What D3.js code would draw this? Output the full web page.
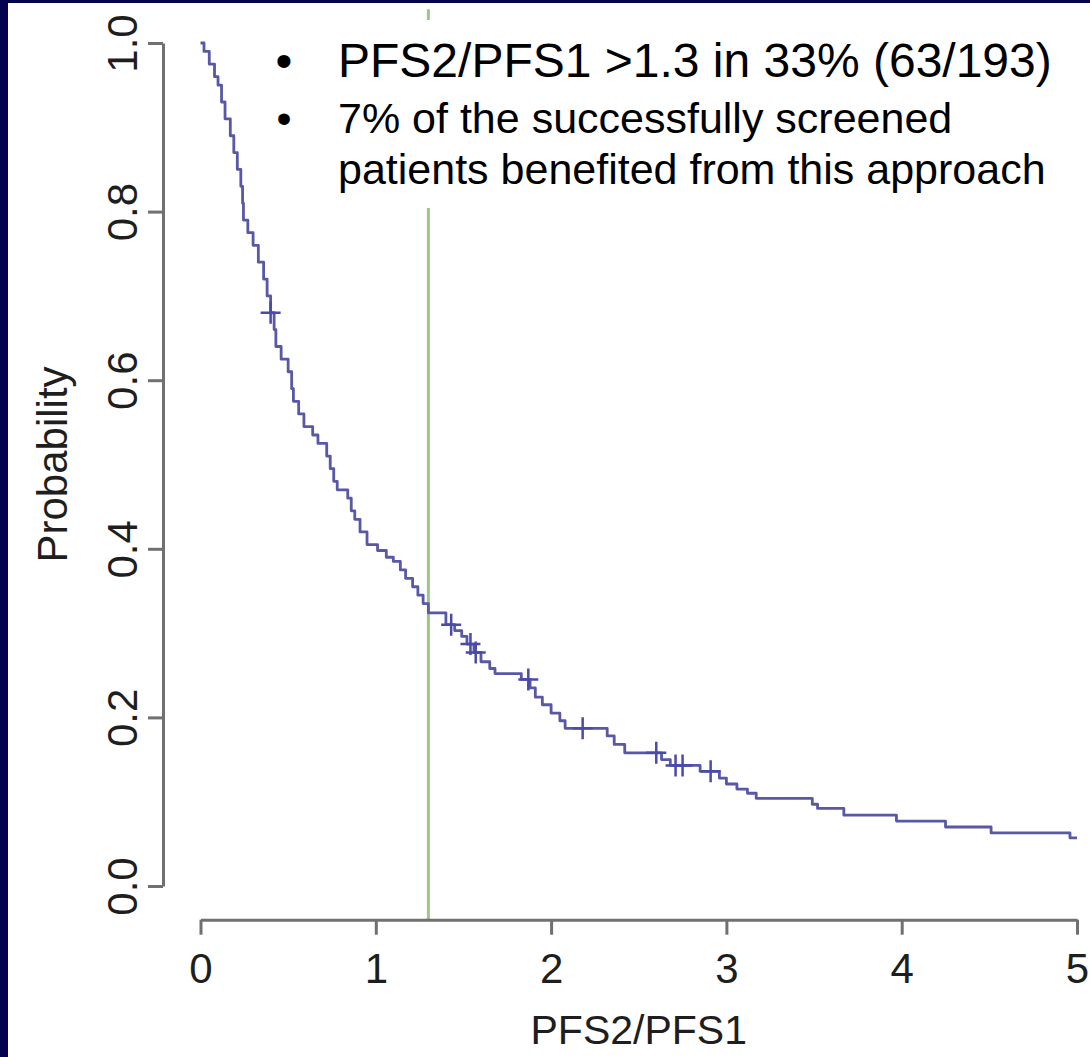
<!DOCTYPE html>
<html>
<head>
<meta charset="utf-8">
<script src="https://cdn.jsdelivr.net/npm/d3@7"></script>
<style>
  html, body { margin: 0; padding: 0; background: #03034e; }
  svg { display: block; }
</style>
</head>
<body>
<svg id="chart" width="1090" height="1057"></svg>
<script>
// ---- data ----
const kmTime = [0, 0.02, 0.05, 0.08, 0.10, 0.12, 0.14, 0.17, 0.19, 0.21, 0.23, 0.24, 0.245, 0.27, 0.30, 0.33, 0.36, 0.38, 0.40,
  0.42, 0.43, 0.46, 0.50, 0.52, 0.53, 0.56, 0.59, 0.64, 0.67, 0.72, 0.74, 0.76, 0.78, 0.84, 0.86, 0.88, 0.91, 0.95,
  1.01, 1.06, 1.10, 1.14, 1.17, 1.21, 1.24, 1.27, 1.30, 1.40, 1.45, 1.49, 1.52, 1.56, 1.60, 1.65, 1.68, 1.83, 1.88,
  1.91, 1.95, 2.00, 2.05, 2.08, 2.32, 2.36, 2.42, 2.63, 2.68, 2.85, 2.96, 3.00, 3.06, 3.12, 3.17, 3.49, 3.52, 3.67,
  3.97, 4.25, 4.51, 4.96, 5.0];
const kmSurv = [1.0, 0.99, 0.975, 0.96, 0.95, 0.93, 0.91, 0.89, 0.87, 0.85, 0.83, 0.81, 0.79, 0.775, 0.76, 0.74, 0.72, 0.70, 0.68,
  0.66, 0.64, 0.625, 0.61, 0.59, 0.575, 0.56, 0.545, 0.535, 0.525, 0.51, 0.495, 0.48, 0.47, 0.46, 0.445, 0.435, 0.42, 0.405,
  0.398, 0.39, 0.385, 0.375, 0.365, 0.355, 0.345, 0.335, 0.324, 0.31, 0.303, 0.296, 0.287, 0.277, 0.266, 0.258, 0.252, 0.245, 0.235,
  0.224, 0.215, 0.205, 0.196, 0.187, 0.178, 0.168, 0.158, 0.150, 0.143, 0.136, 0.128, 0.121, 0.115, 0.110, 0.104, 0.097, 0.092, 0.084,
  0.077, 0.070, 0.063, 0.057, 0.057];
const censorTime = [0.40, 1.43, 1.54, 1.57, 1.87, 2.18, 2.60, 2.71, 2.75, 2.91];
const xTicks = [0, 1, 2, 3, 4, 5];
const yTicks = [0.0, 0.2, 0.4, 0.6, 0.8, 1.0];
const cutoff = 1.3;
const xLabel = "PFS2/PFS1";
const yLabel = "Probability";
const bulletLines = [
  { bullet: true,  text: "PFS2/PFS1 >1.3 in 33% (63/193)" },
  { bullet: true,  text: "7% of the successfully screened" },
  { bullet: false, text: "patients benefited from this approach" }
];

// ---- layout ----
const svg = d3.select("#chart");
const font = "'Liberation Sans', Arial, sans-serif";
const textColor = "#1e1e1e";

svg.append("rect").attr("x", 8).attr("y", 3).attr("width", 1082).attr("height", 1054).attr("fill", "#ffffff");

const x = d3.scaleLinear().domain([0, 5]).range([200.5, 1077]);
const y = d3.scaleLinear().domain([0, 1]).range([886, 43]);
const plotTop = y(1.04), plotBottom = y(-0.04);

// cutoff line
svg.append("line")
  .attr("x1", x(cutoff)).attr("x2", x(cutoff))
  .attr("y1", plotTop).attr("y2", plotBottom)
  .attr("stroke", "#9cc68a").attr("stroke-width", 3);

// KM curve
const pts = kmTime.map((t, i) => [t, kmSurv[i]]);
const line = d3.line().x(d => x(d[0])).y(d => y(d[1])).curve(d3.curveStepAfter);
svg.append("path").attr("d", line(pts))
  .attr("fill", "none").attr("stroke", "#5858a6").attr("stroke-width", 2.8)
  .attr("stroke-linejoin", "round");

function survAt(t) {
  let s = kmSurv[0];
  for (let i = 0; i < kmTime.length; i++) { if (kmTime[i] <= t) s = kmSurv[i]; }
  return s;
}
svg.append("g").selectAll("path").data(censorTime).join("path")
  .attr("transform", d => `translate(${x(d)},${y(survAt(d))})`)
  .attr("d", "M-10,0H10M0,-11V11")
  .attr("stroke", "#4a4aa8").attr("stroke-width", 2.5).attr("fill", "none");

// x axis
const gx = svg.append("g").attr("transform", `translate(0,${plotBottom})`)
  .call(d3.axisBottom(x).tickValues(xTicks).tickFormat(d3.format("d")).tickSize(15).tickSizeOuter(0).tickPadding(18));
gx.select(".domain").attr("stroke", "#707070").attr("stroke-width", 3);
gx.selectAll(".tick line").attr("stroke", "#707070").attr("stroke-width", 3);
gx.selectAll(".tick text").attr("font-family", font).attr("font-size", 42).attr("fill", textColor);

// y axis
const gy = svg.append("g").attr("transform", `translate(163,0)`)
  .call(d3.axisLeft(y).tickValues(yTicks).tickFormat(d3.format(".1f")).tickSize(15).tickSizeOuter(0));
gy.select(".domain").attr("stroke", "#707070").attr("stroke-width", 3);
gy.selectAll(".tick line").attr("stroke", "#707070").attr("stroke-width", 3);
gy.selectAll(".tick text")
  .attr("font-family", font).attr("font-size", 42).attr("fill", textColor)
  .attr("x", null).attr("dy", null)
  .attr("text-anchor", "middle")
  .attr("transform", "translate(-26,0) rotate(-90)");

// axis titles
svg.append("text").attr("x", x(2.5)).attr("y", 1044)
  .attr("text-anchor", "middle").attr("font-family", font).attr("font-size", 41).attr("fill", textColor)
  .text(xLabel);
svg.append("text").attr("transform", `translate(67,${y(0.5)}) rotate(-90)`)
  .attr("text-anchor", "middle").attr("font-family", font).attr("font-size", 42).attr("fill", textColor)
  .text(yLabel);

// text box
svg.append("rect").attr("x", 330).attr("y", 20).attr("width", 760).attr("height", 188).attr("fill", "#ffffff");
const lineY = [77, 133, 184];
const lineSize = [48, 43, 43];
bulletLines.forEach((d, i) => {
  if (d.bullet) {
    svg.append("text").attr("x", 284).attr("y", lineY[i]).attr("text-anchor", "middle")
      .attr("font-family", font).attr("font-size", lineSize[i]).attr("fill", "#000").text("\u2022");
  }
  svg.append("text").attr("x", 338).attr("y", lineY[i])
    .attr("font-family", font).attr("font-size", lineSize[i]).attr("fill", "#000").text(d.text);
});
</script>
</body>
</html>
